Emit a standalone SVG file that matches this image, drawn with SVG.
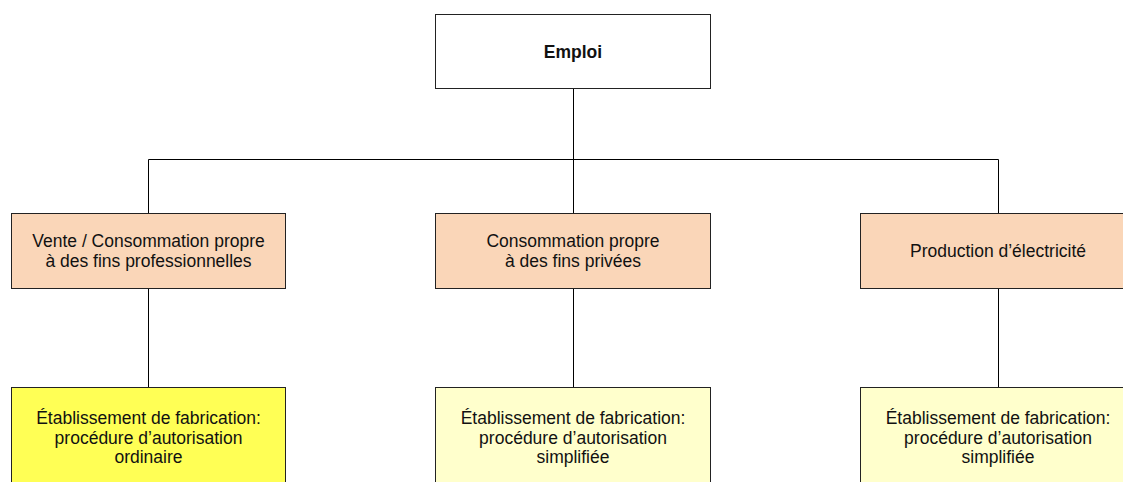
<svg xmlns="http://www.w3.org/2000/svg" width="1123" height="482" viewBox="0 0 1123 482">
<style>
.box{stroke:#222;stroke-width:1}
.top{fill:#fff}
.use{fill:#fad6b8}
.ord{fill:#ffff55}
.simp{fill:#ffffcc}
.t{font-family:"Liberation Sans",Arial,sans-serif;font-size:17.5px;fill:#111;text-anchor:middle}
.b{font-weight:bold}
.c{stroke:#000;stroke-width:1;fill:none}
</style>
<rect width="1123" height="482" fill="#fff"/>
<g id="connectors">
<path class="c" d="M573.5 88.5V159.5M148.5 159.5H998.5M148.5 159.5V213.5M573.5 159.5V213.5M998.5 159.5V213.5M148.5 288.5V387.5M573.5 288.5V387.5M998.5 288.5V387.5"/>
</g>
<g id="n-emploi">
<rect class="box top" x="435.5" y="14.5" width="275" height="74"/>
<text class="t b" x="573" y="57.5">Emploi</text>
</g>
<g id="n-vente">
<rect class="box use" x="11.5" y="213.5" width="274" height="75"/>
<text class="t" x="148.5" y="246.5">Vente / Consommation propre</text>
<text class="t" x="148.5" y="266.5">à des fins professionnelles</text>
</g>
<g id="n-prive">
<rect class="box use" x="435.5" y="213.5" width="275" height="75"/>
<text class="t" x="573" y="246.5">Consommation propre</text>
<text class="t" x="573" y="266.5">à des fins privées</text>
</g>
<g id="n-elec">
<rect class="box use" x="860.5" y="213.5" width="275" height="75"/>
<text class="t" x="998" y="256.5">Production d’électricité</text>
</g>
<g id="n-ord">
<rect class="box ord" x="11.5" y="387.5" width="274" height="110"/>
<text class="t" x="148.5" y="423.5">Établissement de fabrication:</text>
<text class="t" x="148.5" y="443.5">procédure d’autorisation</text>
<text class="t" x="148.5" y="463">ordinaire</text>
</g>
<g id="n-simp1">
<rect class="box simp" x="435.5" y="387.5" width="275" height="110"/>
<text class="t" x="573" y="423.5">Établissement de fabrication:</text>
<text class="t" x="573" y="443.5">procédure d’autorisation</text>
<text class="t" x="573" y="463">simplifiée</text>
</g>
<g id="n-simp2">
<rect class="box simp" x="860.5" y="387.5" width="275" height="110"/>
<text class="t" x="998" y="423.5">Établissement de fabrication:</text>
<text class="t" x="998" y="443.5">procédure d’autorisation</text>
<text class="t" x="998" y="463">simplifiée</text>
</g>
</svg>
